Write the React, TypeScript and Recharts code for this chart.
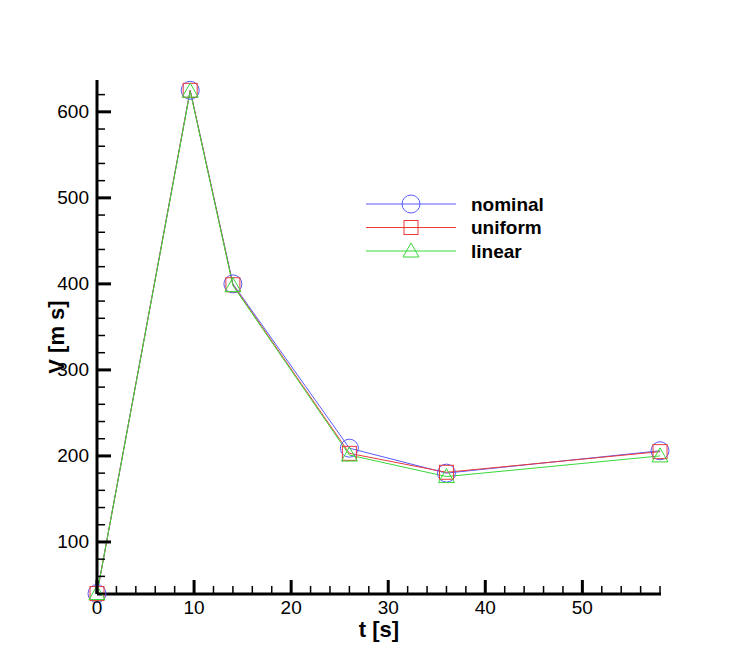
import React from "react";
import { Line, LineChart, XAxis, YAxis } from "recharts";

const times = [0, 9.6, 14, 26, 36, 58];
const nominal = [40, 625, 400, 209, 180, 206];
const uniform = [40, 625, 399, 203, 181, 205];
const linear = [40, 624, 398, 201, 176, 200];

const xTicks = Array.from({ length: 30 }, (_, i) => i * 2);
const yTicks = Array.from({ length: 30 }, (_, i) => 40 + i * 20);

const BLUE = "#5a5aff";
const RED = "#e83a3a";
const GREEN = "#38d838";
const FONT = "'Liberation Sans', Arial, sans-serif";

const data = times.map((t, i) => ({
  t,
  nominal: nominal[i],
  uniform: uniform[i],
  linear: linear[i],
}));

const series = [
  { key: "nominal", color: BLUE, shape: "circle" },
  { key: "uniform", color: RED, shape: "square" },
  { key: "linear", color: GREEN, shape: "triangle" },
];

function Marker({ cx, cy, shape, color }: any) {
  if (cx == null || cy == null) return null;
  if (shape === "circle")
    return <circle cx={cx} cy={cy} r={9} fill="none" stroke={color} strokeWidth={1} />;
  if (shape === "square")
    return <rect x={cx - 7} y={cy - 7} width={14} height={14} fill="none" stroke={color} strokeWidth={1} />;
  return (
    <polygon
      points={`${cx},${cy - 8} ${cx - 8},${cy + 6} ${cx + 8},${cy + 6}`}
      fill="none"
      stroke={color}
      strokeWidth={1}
    />
  );
}

function XTick({ x, y, payload }: any) {
  const major = payload.value % 10 === 0;
  return (
    <g>
      <line x1={x} y1={y} x2={x} y2={y - (major ? 14 : 8)} stroke="#000" strokeWidth={major ? 3 : 1.5} />
      {major && (
        <text x={x} y={y + 13} textAnchor="middle" dominantBaseline="central" fontSize={19} fontFamily={FONT} fill="#000">
          {payload.value}
        </text>
      )}
    </g>
  );
}

function YTick({ x, y, payload }: any) {
  const major = payload.value % 100 === 0;
  return (
    <g>
      <line x1={x} y1={y} x2={x + (major ? 14 : 8)} y2={y} stroke="#000" strokeWidth={major ? 3 : 1.5} />
      {major && (
        <text x={x - 8} y={y} textAnchor="end" dominantBaseline="central" fontSize={19} fontFamily={FONT} fill="#000">
          {payload.value}
        </text>
      )}
    </g>
  );
}

function LegendBox() {
  return (
    <svg width={200} height={80} style={{ position: "absolute", left: 366, top: 192 }}>
      {series.map((s, i) => {
        const y = 12 + i * 23.5;
        return (
          <g key={s.key}>
            <line x1={0} y1={y} x2={90} y2={y} stroke={s.color} strokeWidth={1} />
            <Marker cx={45} cy={y} shape={s.shape} color={s.color} />
            <text x={105} y={y} dominantBaseline="central" fontSize={19} fontWeight="bold" fontFamily={FONT} fill="#000">
              {s.key}
            </text>
          </g>
        );
      })}
    </svg>
  );
}

export default function App() {
  return (
    <div style={{ position: "absolute", left: 0, top: 0, width: 750, height: 667, background: "#fff" }}>
      <LineChart width={750} height={667} data={data} margin={{ top: 80, right: 89, bottom: 0, left: 0 }}>
        <XAxis
          dataKey="t"
          type="number"
          domain={[0, 58.1]}
          ticks={xTicks}
          interval={0}
          height={73}
          tickSize={0}
          tickMargin={0}
          tickLine={false}
          axisLine={{ stroke: "#000", strokeWidth: 3 }}
          tick={<XTick />}
          label={{
            value: "t [s]",
            position: "insideTop",
            offset: 27,
            style: { fontSize: 22, fontWeight: "bold", fontFamily: FONT, fill: "#000" },
          }}
        />
        <YAxis
          type="number"
          domain={[39.5, 637]}
          ticks={yTicks}
          interval={0}
          width={97}
          tickSize={0}
          tickMargin={0}
          tickLine={false}
          axisLine={{ stroke: "#000", strokeWidth: 3 }}
          tick={<YTick />}
          label={{
            value: "V [m s]",
            angle: -90,
            position: "insideLeft",
            offset: 56,
            style: { fontSize: 22, fontWeight: "bold", fontFamily: FONT, fill: "#000", textAnchor: "middle" },
          }}
        />
        {series.map((s) => (
          <Line
            key={s.key}
            dataKey={s.key}
            type="linear"
            stroke={s.color}
            strokeWidth={1}
            isAnimationActive={false}
            dot={(p: any) => <Marker key={`${s.key}-${p.index}`} cx={p.cx} cy={p.cy} shape={s.shape} color={s.color} />}
            activeDot={false}
          />
        ))}
      </LineChart>
      <LegendBox />
    </div>
  );
}
